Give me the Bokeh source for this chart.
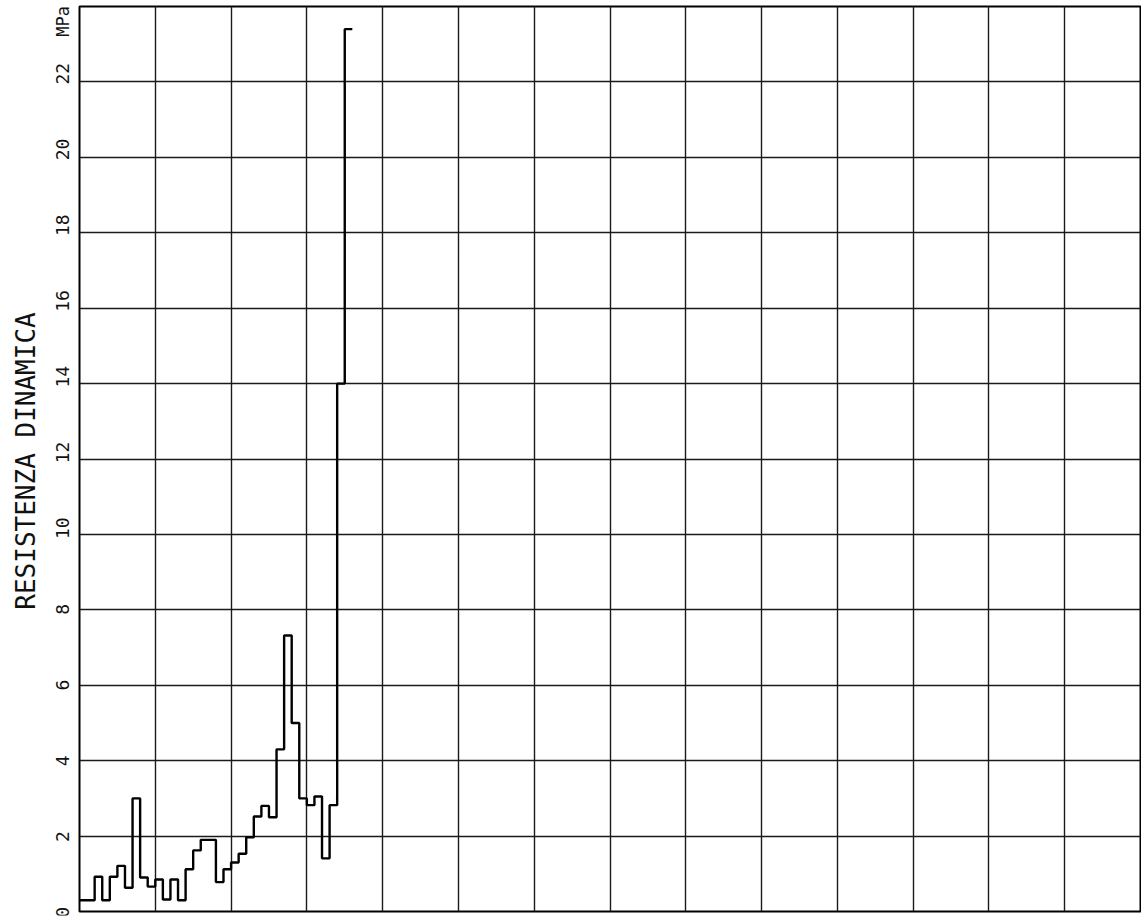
from math import pi
from bokeh.plotting import figure
from bokeh.layouts import row
from bokeh.models import FixedTicker, Range1d
from bokeh.core.properties import value
from bokeh.embed import file_html
from bokeh.resources import INLINE

# depth (m) at the start of each 10 cm reading
depth = [0.0, 0.1, 0.2, 0.3, 0.4, 0.5, 0.6, 0.7, 0.8, 0.9,
         1.0, 1.1, 1.2, 1.3, 1.4, 1.5, 1.6, 1.7, 1.8, 1.9,
         2.0, 2.1, 2.2, 2.3, 2.4, 2.5, 2.6, 2.7, 2.8, 2.9,
         3.0, 3.1, 3.2, 3.3, 3.4, 3.5]
# dynamic resistance (MPa)
resistance = [0.30, 0.30, 0.92, 0.30, 0.92, 1.21, 0.63, 3.00, 0.90, 0.66,
              0.85, 0.32, 0.85, 0.30, 1.12, 1.62, 1.90, 1.90, 0.78, 1.12,
              1.30, 1.53, 1.97, 2.52, 2.80, 2.50, 4.30, 7.32, 5.00, 3.00,
              2.82, 3.05, 1.41, 2.82, 14.0, 23.4]
step_len = 0.1

x_ticks = [0, 1, 2, 3, 4, 5, 6, 7, 8, 9, 10, 11, 12, 13, 14]
y_ticks = [0, 2, 4, 6, 8, 10, 12, 14, 16, 18, 20, 22, 24]
y_tick_labels = ["0", "2", "4", "6", "8", "10", "12", "14", "16", "18", "20", "22"]
unit_label = "MPa"
y_title = "RESISTENZA DINAMICA"

xs, ys = [], []
for d, v in zip(depth, resistance):
    xs += [d, d + step_len]
    ys += [v, v]

yr = Range1d(0, 24)

# main plotting area
p = figure(width=1063, height=916, output_backend="svg", toolbar_location=None,
           x_range=Range1d(0, 14), y_range=yr,
           min_border_left=1, min_border_right=1, min_border_top=6, min_border_bottom=1)
p.xaxis.visible = False
p.yaxis.visible = False
p.xgrid.ticker = FixedTicker(ticks=x_ticks)
p.ygrid.ticker = FixedTicker(ticks=y_ticks)
for g in (p.xgrid, p.ygrid):
    g.grid_line_color = "#1a1a1a"
    g.grid_line_width = 1.4
    g.grid_line_alpha = 1.0
p.outline_line_color = "black"
p.outline_line_width = 2
p.background_fill_color = "white"
p.border_fill_color = "white"

p.line(xs, ys, line_color="black", line_width=2.4)

# left strip carrying the vertical axis texts (same vertical frame as the plot)
q = figure(width=78, height=920, output_backend="svg", toolbar_location=None,
           x_range=Range1d(0, 78), y_range=yr,
           min_border_left=0, min_border_right=0, min_border_top=6, min_border_bottom=5)
q.axis.visible = False
q.grid.visible = False
q.outline_line_color = None
q.background_fill_color = "white"
q.border_fill_color = "white"

font = value("DejaVu Sans Mono")
q.text(x=[62] * len(y_tick_labels), y=[t - 0.06 for t in y_ticks[:len(y_tick_labels)]],
       text=y_tick_labels, angle=pi / 2, text_align="left", text_baseline="middle",
       text_font=font, text_font_size="18px", text_color="#111")
q.text(x=[62], y=[23.2], text=[unit_label], angle=pi / 2, text_align="left",
       text_baseline="middle", text_font=font, text_font_size="17px", text_color="#111")
q.text(x=[25], y=[12.0], text=[y_title], angle=pi / 2, text_align="center",
       text_baseline="middle", text_font=font, text_font_size="26px", text_color="#111")

layout = row(q, p, spacing=0)
open("out.html", "w").write(file_html(layout, INLINE))
